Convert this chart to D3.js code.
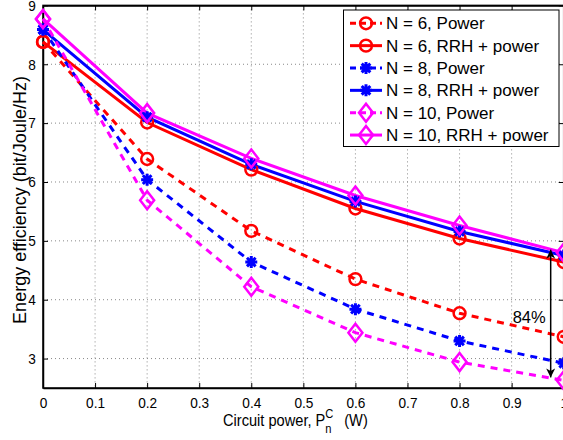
<!DOCTYPE html>
<html><head><meta charset="utf-8">
<script src="https://cdn.jsdelivr.net/npm/d3@7"></script>
<style>body{margin:0;background:#fff}svg{display:block}text{font-family:"Liberation Sans",Arial,sans-serif}</style>
</head><body><svg id="c" width="563" height="440"></svg>
<script>
const xValues = [0, 0.2, 0.4, 0.6, 0.8, 1.0];
const n6Power = [8.38, 6.39, 5.17, 4.35, 3.77, 3.37];
const n6RRH   = [8.38, 7.01, 6.21, 5.55, 5.04, 4.64];
const n8Power = [8.59, 6.04, 4.64, 3.84, 3.30, 2.92];
const n8RRH   = [8.59, 7.10, 6.30, 5.67, 5.16, 4.75];
const n10Power= [8.77, 5.69, 4.22, 3.44, 2.94, 2.63];
const n10RRH  = [8.77, 7.17, 6.40, 5.77, 5.26, 4.80];
const xTicks = [0,0.1,0.2,0.3,0.4,0.5,0.6,0.7,0.8,0.9,1];
const yTicks = [3,4,5,6,7,8,9];
const xTickLabels = ["0","0.1","0.2","0.3","0.4","0.5","0.6","0.7","0.8","0.9","1"];
const yTickLabels = ["3","4","5","6","7","8","9"];
const seriesNames = ["N = 6, Power","N = 6, RRH + power","N = 8, Power","N = 8, RRH + power","N = 10, Power","N = 10, RRH + power"];
const arrowX = 0.975, arrowTop = 4.85, arrowBottom = 2.68, arrowLabel = "84%";

const series = [
  {name: seriesNames[0], values: n6Power, color: "#ff0000", dashed: true, marker: "circle"},
  {name: seriesNames[1], values: n6RRH, color: "#ff0000", dashed: false, marker: "circle"},
  {name: seriesNames[2], values: n8Power, color: "#0000ff", dashed: true, marker: "star"},
  {name: seriesNames[3], values: n8RRH, color: "#0000ff", dashed: false, marker: "star"},
  {name: seriesNames[4], values: n10Power, color: "#ff00ff", dashed: true, marker: "diamond"},
  {name: seriesNames[5], values: n10RRH, color: "#ff00ff", dashed: false, marker: "diamond"}
];

const svg = d3.select("#c");
const L = 43, R = 563.7, T = 5.4, B = 388;
const x = d3.scaleLinear().domain([0,1]).range([L,R]);
const y = d3.scaleLinear().domain([2.5,9]).range([B,T]);

// grid
const g = svg.append("g");
g.selectAll(".gx").data(xTicks.slice(1,-1)).join("line")
  .attr("x1",d=>x(d)).attr("x2",d=>x(d)).attr("y1",T).attr("y2",B)
  .attr("stroke","#888").attr("stroke-width",1).attr("stroke-dasharray","1,3");
g.selectAll(".gy").data(yTicks.slice(0,-1)).join("line")
  .attr("y1",d=>y(d)).attr("y2",d=>y(d)).attr("x1",L).attr("x2",R)
  .attr("stroke","#888").attr("stroke-width",1).attr("stroke-dasharray","1,3");

// axes
const xAxis = d3.axisBottom(x).tickValues(xTicks).tickFormat((d,i)=>xTickLabels[i]).tickSizeInner(-5).tickSizeOuter(0).tickPadding(9);
const yAxis = d3.axisLeft(y).tickValues(yTicks).tickFormat((d,i)=>yTickLabels[i]).tickSizeInner(-5).tickSizeOuter(0).tickPadding(8);
const xa = svg.append("g").attr("transform",`translate(0,${B})`).call(xAxis);
const ya = svg.append("g").attr("transform",`translate(${L},0)`).call(yAxis);
const xt = svg.append("g").attr("transform",`translate(0,${T})`).call(d3.axisTop(x).tickValues(xTicks).tickSizeInner(-5).tickSizeOuter(0).tickFormat(""));
const yr = svg.append("g").attr("transform",`translate(${R},0)`).call(d3.axisRight(y).tickValues(yTicks).tickSizeInner(-5).tickSizeOuter(0).tickFormat(""));
[xa,ya,xt,yr].forEach(a=>{
  a.attr("font-size",null).attr("font-family",null);
  a.select(".domain").attr("stroke","#000").attr("stroke-width",1.5);
  a.selectAll(".tick line").attr("stroke","#000");
  a.selectAll("text").style("font-size","15px").attr("fill","#000").attr("transform","scale(0.91,1)");
});
svg.append("rect").attr("x",L).attr("y",T).attr("width",R-L).attr("height",B-T).attr("fill","none").attr("stroke","#000").attr("stroke-width",1.5);

// markers
function markerPath(type){
  if(type==="circle") return d3.symbol(d3.symbolCircle, 110)();
  if(type==="diamond") return "M0,-9L7,0L0,9L-7,0Z";
  const r=6, d=r*0.72;
  return `M${-r},0L${r},0M0,${-r}L0,${r}M${-d},${-d}L${d},${d}M${-d},${d}L${d},${-d}`;
}

const line = d3.line().x((d,i)=>x(xValues[i])).y(d=>y(d));
const plot = svg.append("g");
series.forEach(s=>{
  plot.append("path").datum(s.values).attr("d",line).attr("fill","none")
    .attr("stroke",s.color).attr("stroke-width",3)
    .attr("stroke-dasharray",s.dashed?"7,6":null);
});
series.forEach(s=>{
  plot.selectAll(null).data(s.values).join("path")
    .attr("transform",(d,i)=>`translate(${x(xValues[i])},${y(d)})`)
    .attr("d",markerPath(s.marker)).attr("fill","none")
    .attr("stroke",s.color).attr("stroke-width",s.marker==="star"?3:2.5);
});

// arrow
const defs = svg.append("defs");
defs.append("marker").attr("id","ah").attr("viewBox","0 0 10 10").attr("refX",10).attr("refY",5)
  .attr("markerWidth",12).attr("markerHeight",9).attr("markerUnits","userSpaceOnUse")
  .attr("orient","auto-start-reverse").append("path").attr("d","M0,0L10,5L0,10L3,5Z").attr("fill","#000");
svg.append("line").attr("x1",x(arrowX)).attr("x2",x(arrowX)).attr("y1",y(arrowTop)).attr("y2",y(arrowBottom))
  .attr("stroke","#000").attr("stroke-width",1.5)
  .attr("marker-start","url(#ah)").attr("marker-end","url(#ah)");
svg.append("text").attr("x",x(arrowX)-5).attr("y",y(3.6)).attr("text-anchor","end")
  .style("font-size","16.5px").text(arrowLabel);

// legend
const lg = svg.append("g");
lg.append("rect").attr("x",343.5).attr("y",10).attr("width",215.5).attr("height",136.5)
  .attr("fill","#fff").attr("stroke","#000").attr("stroke-width",1);
series.forEach((s,i)=>{
  const cy = 23.3 + i*22.35;
  lg.append("line").attr("x1",350).attr("x2",382).attr("y1",cy).attr("y2",cy)
    .attr("stroke",s.color).attr("stroke-width",3).attr("stroke-dasharray",s.dashed?"6,4":null);
  lg.append("path").attr("transform",`translate(366,${cy})`).attr("d",markerPath(s.marker))
    .attr("fill","none").attr("stroke",s.color).attr("stroke-width",s.marker==="star"?3:2.5);
  lg.append("text").attr("x",386).attr("y",cy+6).style("font-size","17px").attr("fill","#000").text(s.name);
});

// axis labels
const xl = svg.append("text").attr("transform","translate(223,426) scale(0.86,1)").style("font-size","17px");
xl.append("tspan").text("Circuit power, P");
xl.append("tspan").attr("x",119).attr("dy",-8).style("font-size","13px").text("C");
xl.append("tspan").attr("x",119).attr("dy",15).style("font-size","13px").text("n");
xl.append("tspan").attr("x",141).attr("dy",-7).text("(W)");
svg.append("text").attr("transform","translate(26,200) rotate(-90)").attr("text-anchor","middle")
  .style("font-size","18px").text("Energy efficiency (bit/Joule/Hz)");
</script></body></html>
